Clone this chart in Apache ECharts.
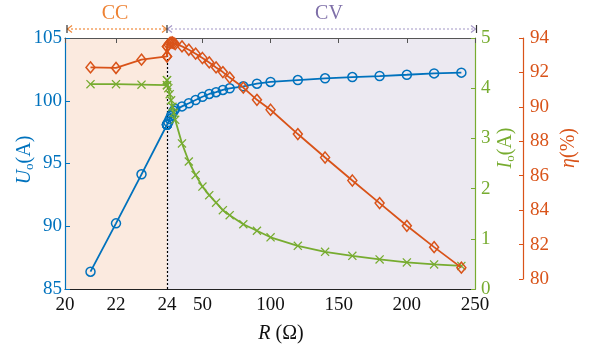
<!DOCTYPE html>
<html><head><meta charset="utf-8">
<script src="https://cdn.jsdelivr.net/npm/echarts@6/dist/echarts.min.js"></script>
<style>html,body{margin:0;padding:0;background:#fff}#c{width:595px;height:350px}</style>
</head><body><div id="c"></div>
<script>
// ---- data ----
const R_CC   = [21, 22, 23, 24];
const U_CC   = [86.38, 90.23, 94.14, 98.09];
const I_CC   = [4.08, 4.08, 4.07, 4.06];
const eta_CC = [92.29, 92.26, 92.74, 92.93];

const R_CV   = [24, 25, 26, 27, 28, 29, 30, 35, 40, 45, 50, 55, 60, 65, 70, 80, 90, 100, 120, 140, 160, 180, 200, 220, 240];
const U_CV   = [98.1, 98.3, 98.55, 98.8, 99.0, 99.2, 99.35, 99.55, 99.8, 100.06, 100.32, 100.54, 100.68, 100.86, 100.99, 101.15, 101.36, 101.5, 101.65, 101.79, 101.89, 101.97, 102.07, 102.18, 102.24];
const I_CV   = [4.16, 4.0, 3.88, 3.76, 3.63, 3.51, 3.37, 2.90, 2.54, 2.27, 2.04, 1.87, 1.72, 1.57, 1.47, 1.29, 1.16, 1.03, 0.86, 0.74, 0.66, 0.59, 0.53, 0.49, 0.46];
const eta_CV = [93.5, 93.62, 93.7, 93.74, 93.74, 93.7, 93.64, 93.51, 93.32, 93.09, 92.84, 92.58, 92.29, 92.02, 91.7, 91.12, 90.41, 89.83, 88.42, 87.06, 85.72, 84.41, 83.09, 81.85, 80.66];

const xTicksCV = [50, 100, 150, 200, 250];
const xTopTicksCV = [50, 100, 150, 200, 250];

// ---- style / layout ----
const FONT = 'Liberation Serif';
const BLUE = '#0072BD', ORANGE = '#D95319', GREEN = '#77AC30';
const L = 65, MID = 167, RT = 475, T = 38, H = 251, HETA = 241;

function zip(xs, ys){ return xs.map((x,i)=>[x, ys[i]]); }
const nCC = R_CC.length;
function ccPart(Rc, Yc, Rv, Yv){ return zip(Rc, Yc).concat([[Rv[0], Yv[0]]]); }
function cvPart(Rc, Yc, Rv, Yv){ return [[Rc[nCC-1], Yc[nCC-1]]].concat(zip(Rv, Yv)); }

const XPATH = 'path://M1,0 L5,4 L9,0 L10,1 L6,5 L10,9 L9,10 L5,6 L1,10 L0,9 L4,5 L0,1 Z';

const chart = echarts.init(document.getElementById('c'), null, {renderer:'canvas'});

const labelFont = {fontFamily: FONT, fontSize: 19};

function uSeries(data, xi, yi, extra){
  return Object.assign({type:'line', xAxisIndex:xi, yAxisIndex:yi, data, clip:false,
    symbol:'circle', symbolSize:9,
    itemStyle:{color:'rgba(0,0,0,0)', borderColor:BLUE, borderWidth:1.5},
    lineStyle:{color:BLUE, width:1.8}, z:3}, extra||{});
}
function iSeries(data, xi, yi){
  return {type:'line', xAxisIndex:xi, yAxisIndex:yi, data, clip:false,
    symbol:XPATH, symbolSize:9,
    itemStyle:{color:GREEN},
    lineStyle:{color:GREEN, width:1.8}, z:4};
}
function eSeries(data, xi, yi){
  return {type:'line', xAxisIndex:xi, yAxisIndex:yi, data, clip:false,
    symbol:'diamond', symbolSize:[9,11],
    itemStyle:{color:'rgba(0,0,0,0)', borderColor:ORANGE, borderWidth:1.5},
    lineStyle:{color:ORANGE, width:1.8}, z:5};
}

const option = {
  animation:false,
  backgroundColor:'#fff',
  textStyle:{fontFamily:FONT},
  grid:[
    {left:L, top:T, width:MID-L, height:H, show:true, backgroundColor:'#FBEADF', borderWidth:0},
    {left:MID, top:T, width:RT-MID, height:H, show:true, backgroundColor:'#ECE9F1', borderWidth:0},
    {left:L, top:T, width:MID-L, height:HETA, show:false},
    {left:MID, top:T, width:RT-MID, height:HETA, show:false}
  ],
  xAxis:[
    {gridIndex:0, type:'value', position:'bottom', min:20, max:24, interval:2,
     axisLine:{show:true, lineStyle:{color:'#222', width:1}}, axisTick:{show:false},
     axisLabel:Object.assign({color:'#111', margin:7}, labelFont), splitLine:{show:false}},
    {gridIndex:1, type:'value', position:'bottom', min:24, max:250,
     axisLine:{show:true, lineStyle:{color:'#222', width:1}}, axisTick:{show:false},
     axisLabel:Object.assign({color:'#111', margin:7, customValues:xTicksCV}, labelFont), splitLine:{show:false}},
    {gridIndex:0, type:'value', position:'top', min:20, max:24, interval:2,
     axisLine:{show:true, lineStyle:{color:'#555', width:1.2}},
     axisTick:{show:true, inside:true, length:5, lineStyle:{color:'#555'}},
     axisLabel:{show:false}, splitLine:{show:false}},
    {gridIndex:1, type:'value', position:'top', min:24, max:250,
     axisLine:{show:true, lineStyle:{color:'#555', width:1.2}},
     axisTick:{show:true, inside:true, length:5, lineStyle:{color:'#555'}, customValues:xTopTicksCV},
     axisLabel:{show:false}, splitLine:{show:false}},
    {gridIndex:2, type:'value', min:20, max:24, show:false},
    {gridIndex:3, type:'value', min:24, max:250, show:false}
  ],
  yAxis:[
    {gridIndex:0, type:'value', position:'left', min:85, max:105, interval:5,
     axisLine:{show:true, lineStyle:{color:BLUE, width:1.2}},
     axisTick:{show:true, inside:true, length:5, lineStyle:{color:BLUE}},
     axisLabel:Object.assign({color:BLUE, margin:3}, labelFont), splitLine:{show:false}},
    {gridIndex:0, type:'value', min:0, max:5, show:false},
    {gridIndex:1, type:'value', min:85, max:105, show:false},
    {gridIndex:1, type:'value', position:'right', min:0, max:5, interval:1,
     axisLine:{show:true, lineStyle:{color:GREEN, width:1.2}},
     axisTick:{show:true, inside:true, length:4, lineStyle:{color:GREEN}},
     axisLabel:Object.assign({color:GREEN, margin:6}, labelFont), splitLine:{show:false}},
    {gridIndex:2, type:'value', min:80, max:94, show:false},
    {gridIndex:3, type:'value', position:'right', offset:48, min:80, max:94, interval:2,
     axisLine:{show:true, lineStyle:{color:ORANGE, width:1.2}},
     axisTick:{show:true, inside:true, length:4, lineStyle:{color:ORANGE}},
     axisLabel:Object.assign({color:ORANGE, margin:7}, labelFont), splitLine:{show:false}}
  ],
  series:[
    uSeries(ccPart(R_CC, U_CC, R_CV, U_CV), 0, 0),
    uSeries(cvPart(R_CC, U_CC, R_CV, U_CV), 1, 2, {
      markLine:{silent:true, symbol:['none','none'], label:{show:false},
        lineStyle:{color:'#000', type:[2,2], width:1.2}, data:[{xAxis:24}], z:2}
    }),
    iSeries(ccPart(R_CC, I_CC, R_CV, I_CV), 0, 1),
    iSeries(cvPart(R_CC, I_CC, R_CV, I_CV), 1, 3),
    eSeries(ccPart(R_CC, eta_CC, R_CV, eta_CV), 4, 4),
    eSeries(cvPart(R_CC, eta_CC, R_CV, eta_CV), 5, 5)
  ],
  graphic:[
    {type:'text', x:115, y:14, style:{text:'CC', fill:'#EE8233', fontFamily:FONT, fontSize:20, textAlign:'center', textVerticalAlign:'middle'}},
    {type:'text', x:329, y:14, style:{text:'CV', fill:'#7E6FA8', fontFamily:FONT, fontSize:20, textAlign:'center', textVerticalAlign:'middle'}},
    {type:'line', shape:{x1:67, y1:29, x2:167, y2:29}, style:{stroke:'#F08A3C', lineWidth:1.2, lineDash:[2,2]}},
    {type:'polyline', shape:{points:[[72,25.5],[67.5,29],[72,32.5]]}, style:{stroke:'#F08A3C', lineWidth:1.2, fill:null}},
    {type:'polyline', shape:{points:[[162,25.5],[166.5,29],[162,32.5]]}, style:{stroke:'#F08A3C', lineWidth:1.2, fill:null}},
    {type:'line', shape:{x1:167, y1:29, x2:475, y2:29}, style:{stroke:'#B2A7CF', lineWidth:1.2, lineDash:[2,2]}},
    {type:'polyline', shape:{points:[[172,25.5],[167.5,29],[172,32.5]]}, style:{stroke:'#A698C8', lineWidth:1.2, fill:null}},
    {type:'polyline', shape:{points:[[471,25.5],[475.5,29],[471,32.5]]}, style:{stroke:'#A698C8', lineWidth:1.2, fill:null}},
    {type:'line', shape:{x1:67, y1:25, x2:67, y2:33}, style:{stroke:'#333', lineWidth:1.2}},
    {type:'line', shape:{x1:167, y1:25, x2:167, y2:33}, style:{stroke:'#333', lineWidth:1.2}},
    {type:'line', shape:{x1:476.5, y1:25, x2:476.5, y2:33}, style:{stroke:'#333', lineWidth:1.2}},
    {type:'text', x:25, y:160, rotation:Math.PI/2,
     style:{text:'{i|U}{s|o}{n|(A)}', fill:BLUE, textAlign:'center', textVerticalAlign:'middle',
       rich:{i:{fontFamily:FONT, fontSize:20, fontStyle:'italic', fill:BLUE, lineHeight:22},
             s:{fontFamily:FONT, fontSize:13, fill:BLUE, verticalAlign:'bottom', lineHeight:14},
             n:{fontFamily:FONT, fontSize:20, fill:BLUE, lineHeight:22}}}},
    {type:'text', x:506, y:148, rotation:Math.PI/2,
     style:{text:'{i|I}{s|o}{n|(A)}', fill:GREEN, textAlign:'center', textVerticalAlign:'middle',
       rich:{i:{fontFamily:FONT, fontSize:20, fontStyle:'italic', fill:GREEN, lineHeight:22},
             s:{fontFamily:FONT, fontSize:13, fill:GREEN, verticalAlign:'bottom', lineHeight:14},
             n:{fontFamily:FONT, fontSize:20, fill:GREEN, lineHeight:22}}}},
    {type:'text', x:569, y:148, rotation:Math.PI/2,
     style:{text:'{i|η}{n|(%)}', fill:ORANGE, textAlign:'center', textVerticalAlign:'middle',
       rich:{i:{fontFamily:FONT, fontSize:20, fontStyle:'italic', fill:ORANGE, lineHeight:22},
             n:{fontFamily:FONT, fontSize:20, fill:ORANGE, lineHeight:22}}}},
    {type:'text', x:281, y:334,
     style:{text:'{i|R}{n| (Ω)}', fill:'#111', textAlign:'center', textVerticalAlign:'middle',
       rich:{i:{fontFamily:FONT, fontSize:20, fontStyle:'italic', fill:'#111'},
             n:{fontFamily:FONT, fontSize:20, fill:'#111'}}}}
  ]
};
chart.setOption(option);
</script>
</body></html>
